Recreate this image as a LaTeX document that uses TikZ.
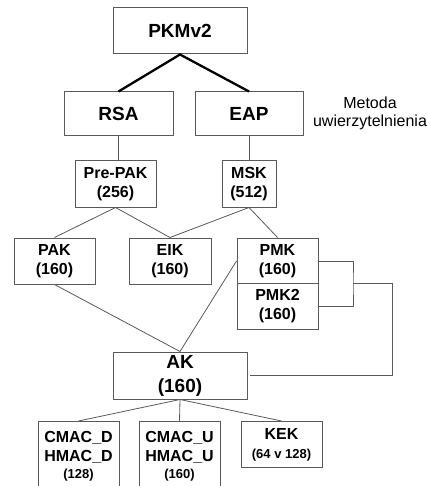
\documentclass[tikz,border=0pt]{standalone}
\usepackage{fontspec}
\setmainfont{Liberation Sans}
\usepackage{tikz}

\begin{document}
\begin{tikzpicture}[x=1pt,y=-1pt,
  keybox/.style={draw=black!65,line width=1pt,fill=white,align=center,inner sep=0pt,
    minimum width=81pt,minimum height=46pt,font=\bfseries\fontsize{16}{19}\selectfont},
  bigbox/.style={keybox,minimum width=134pt,font=\bfseries\fontsize{19}{24}\selectfont},
  link/.style={draw=black!65,line width=0.8pt},
  trunk/.style={draw=black,line width=2.3pt}]
  \useasboundingbox (0,0) rectangle (427,486);
  \clip (0,0) rectangle (427,486);
  % Metody
  \draw (180,31) node[bigbox] (pkm) {PKMv2}
  (118.5,114) node[keybox,minimum width=109pt,minimum height=44pt,font=\bfseries\fontsize{19}{24}\selectfont] (rsa) {RSA}
  (249,114) node[keybox,minimum width=108pt,minimum height=44pt,font=\bfseries\fontsize{19}{24}\selectfont] (eap) {EAP}
  (370,113) node[align=center,font=\fontsize{16}{18}\selectfont] (metoda) {Metoda\\uwierzytelnienia}
  ;
  \draw[trunk] (rsa.north) -- (pkm.south) -- (eap.north);
  % Klucze
  \draw (115.5,184) node[keybox] (prepak) {Pre-PAK\\(256)}
  (249,184) node[keybox,minimum width=54pt] (msk) {MSK\\(512)}
  (54.5,261) node[keybox] (pak) {PAK\\(160)}
  (170,261) node[keybox,minimum width=82pt] (eik) {EIK\\(160)}
  (277.5,261) node[keybox] (pmk) {PMK\\(160)}
  (277.5,306) node[keybox] (pmkb) {PMK2\\(160)}
  (180,375.5) node[bigbox,minimum height=47pt] (ak) {AK\\(160)}
  ;
  \draw[link] (rsa.south) -- (rsa.south |- prepak.north);
  \draw[link] (eap.south) -- (msk.north);
  \draw[link] (pak.north) -- (prepak.south) -- (eik.north) -- (msk.south) -- (pmk.north);
  \draw[link] (pak.south) -- (ak.north) -- (pmk.west);
  % Klamra PMK / PMK2
  \coordinate (klamra) at (353,283.5);
  \draw[link] (pmk.east) -| (klamra) |- (pmkb.east);
  \draw[link] (klamra) -- (392,283.5) |- ([xshift=2pt]ak.east);
  % Klucze pochodne
  \draw (78.5,421) node[keybox,anchor=north,minimum height=70pt] (cmacd)
    {CMAC\_D\\HMAC\_D\\[-2pt]{\fontsize{13}{16}\selectfont (128)}}
  (179.5,421) node[keybox,anchor=north,minimum height=70pt] (cmacu)
    {CMAC\_U\\HMAC\_U\\[-2pt]{\fontsize{13}{16}\selectfont (160)}}
  (281.5,421) node[keybox,anchor=north] (kek)
    {KEK\\{\fontsize{13}{16}\selectfont (64 v 128)}}
  ;
  \draw[link] (cmacd.north) -- (ak.south) -- (kek.north);
  \draw[link] (ak.south) -- (cmacu.north);
\end{tikzpicture}
\end{document}
